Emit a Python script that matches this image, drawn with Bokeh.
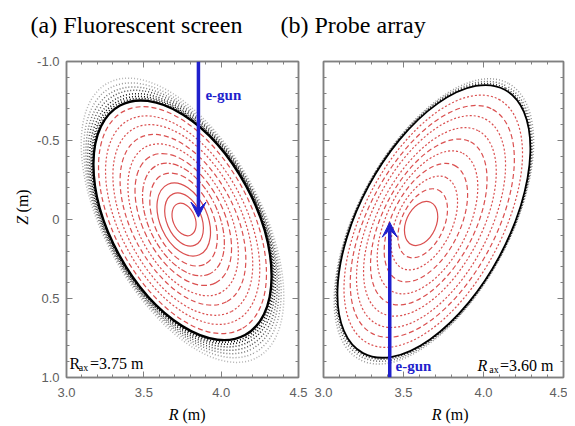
from bokeh.plotting import figure
from bokeh.models import Range1d, LinearAxis, FixedTicker, CustomJSTickFormatter, Arrow, VeeHead
from bokeh.layouts import column, row
from bokeh.embed import file_html
from bokeh.resources import INLINE
from bokeh.core.properties import value

# ---------------- data ----------------
x_major = [3.0, 3.5, 4.0, 4.5]
x_minor = [3.0, 3.1, 3.2, 3.3, 3.4, 3.5, 3.6, 3.7, 3.8, 3.9, 4.0, 4.1, 4.2, 4.3, 4.4, 4.5]
y_major = [-1.0, -0.5, 0.0, 0.5, 1.0]
y_minor = [-1.0, -0.9, -0.8, -0.7, -0.6, -0.5, -0.4, -0.3, -0.2, -0.1, 0.0,
           0.1, 0.2, 0.3, 0.4, 0.5, 0.6, 0.7, 0.8, 0.9, 1.0]

titles = ["(a) Fluorescent screen", "(b) Probe array"]

# (a) nested flux surfaces (ellipse fits): centre R, Z, full major / minor axis, tilt
a_R = [3.760, 3.760, 3.758, 3.757, 3.756, 3.755, 3.754, 3.753, 3.752, 3.751, 3.750]
a_Z = [0.000, 0.000, 0.000, 0.000, 0.000, 0.000, 0.002, 0.002, 0.003, 0.004, 0.004]
a_W = [0.22, 0.36, 0.50, 0.64, 0.78, 0.92, 1.06, 1.20, 1.34, 1.47, 1.60]
a_H = [0.14, 0.22, 0.30, 0.37, 0.44, 0.51, 0.58, 0.65, 0.72, 0.79, 0.86]
a_tilt = [-68, -67, -66, -65, -64, -63, -63, -62, -62, -61.5, -61.5]
a_dash = ["solid", "solid", "solid", "6 3", "6 2 2 2", "6 3", "2 2", "5 3", "2 2", "2 2", "5 3"]
# (a) last closed surface and stochastic layer
a_lcfs = dict(R=3.750, Z=0.005, W=1.69, H=0.915, tilt=-61.4)
a_sto_W = [1.72, 1.75, 1.79, 1.84, 1.89, 1.95, 2.02]
a_sto_H = [0.925, 0.93, 0.94, 0.95, 0.96, 0.97, 0.985]
a_sto_alpha = [1.0, 0.95, 0.85, 0.7, 0.55, 0.4, 0.3]

# (b)
b_R = [3.610, 3.620, 3.630, 3.640, 3.650, 3.658, 3.665, 3.672, 3.680, 3.686]
b_Z = [0.025, 0.024, 0.022, 0.020, 0.018, 0.016, 0.015, 0.013, 0.012, 0.011]
b_W = [0.29, 0.46, 0.63, 0.80, 0.97, 1.13, 1.29, 1.45, 1.59, 1.73]
b_H = [0.19, 0.27, 0.35, 0.43, 0.51, 0.58, 0.65, 0.73, 0.80, 0.87]
b_tilt = [66, 65, 64, 63.5, 63, 62.5, 62, 62, 61.7, 61.7]
b_dash = ["solid", "5 3", "2 2", "5 3", "2 2", "5 3", "2 2", "2 2", "5 3", "2 2"]
b_lcfs = dict(R=3.690, Z=0.012, W=1.87, H=0.94, tilt=61.7)
b_sto_W = [1.89, 1.92, 1.96]
b_sto_H = [0.948, 0.952, 0.956]
b_sto_alpha = [0.85, 0.6, 0.4]

# e-gun arrows: R position, start Z, tip Z
egun_R = [3.853, 3.414]
egun_Z0 = [-1.0, 1.0]
egun_Z1 = [-0.015, 0.017]

R_ax = ["3.75", "3.60"]

RED = "#d63c3c"
BLUE = "#1f1fcc"
GRAY = "#808080"
SERIF = value("Liberation Serif")


def style_axis(ax, ticks, minor, show, code, standoff):
    ax.ticker = FixedTicker(ticks=ticks, minor_ticks=minor)
    ax.major_tick_in = 6
    ax.major_tick_out = 0
    ax.minor_tick_in = 3
    ax.minor_tick_out = 0
    ax.major_tick_line_color = GRAY
    ax.minor_tick_line_color = GRAY
    ax.axis_line_color = GRAY
    ax.axis_line_width = 1.5
    ax.major_label_text_font = "Liberation Sans"
    ax.major_label_text_color = "#606060"
    if show:
        ax.formatter = CustomJSTickFormatter(code=code)
        ax.major_label_text_font_size = "13px"
        ax.major_label_standoff = standoff
    else:
        ax.formatter = CustomJSTickFormatter(code="return '';")
        ax.major_label_text_font_size = "1px"
        ax.major_label_standoff = 0


def panel(width, bl, br, show_y):
    p = figure(width=width, height=356, x_range=Range1d(3.0, 4.5), y_range=Range1d(1.0, -1.0),
               output_backend="svg", toolbar_location=None,
               x_axis_location=None, y_axis_location=None,
               min_border_left=bl, min_border_right=br, min_border_top=13, min_border_bottom=27)
    p.grid.visible = False
    p.outline_line_color = GRAY
    p.outline_line_width = 1.5
    xcode = "return tick.toFixed(1);"
    ycode = "return Math.abs(tick) < 1e-9 ? '0' : tick.toFixed(1);"
    for loc, show in (("below", True), ("above", False)):
        ax = LinearAxis()
        style_axis(ax, x_major, x_minor, show, xcode, 10)
        p.add_layout(ax, loc)
    for loc, show in (("left", show_y), ("right", False)):
        ax = LinearAxis()
        style_axis(ax, y_major, y_minor, show, ycode, 7)
        p.add_layout(ax, loc)
    return p


def surfaces(p, R, Z, W, H, tilt, dash, lcfs, sto_W, sto_H, sto_alpha, lw):
    for i in range(len(R)):
        p.ellipse(x=R[i], y=Z[i], width=W[i], height=H[i], angle=tilt[i], angle_units="deg",
                  fill_color=None, line_color=RED, line_width=1.2, line_dash=dash[i], line_alpha=0.9)
    for i in range(len(sto_W)):
        p.ellipse(x=lcfs["R"], y=lcfs["Z"], width=sto_W[i], height=sto_H[i], angle=lcfs["tilt"],
                  angle_units="deg", fill_color=None, line_color="black", line_width=1.5,
                  line_dash="1 2", line_dash_offset=i, line_alpha=sto_alpha[i])
    p.ellipse(x=lcfs["R"], y=lcfs["Z"], width=lcfs["W"], height=lcfs["H"], angle=lcfs["tilt"],
              angle_units="deg", fill_color=None, line_color="black", line_width=lw)


# ---------------- panel (a) ----------------
p1 = panel(276, 28, 12, True)
surfaces(p1, a_R, a_Z, a_W, a_H, a_tilt, a_dash, a_lcfs, a_sto_W, a_sto_H, a_sto_alpha, 2.4)
p1.add_layout(Arrow(end=VeeHead(size=15, fill_color=BLUE, line_color=BLUE),
                    x_start=egun_R[0], y_start=egun_Z0[0], x_end=egun_R[0], y_end=egun_Z1[0],
                    line_color=BLUE, line_width=3.5))
p1.text(x=[3.898], y=[-0.785], text=["e-gun"], text_font=SERIF, text_font_style="bold",
        text_font_size="15px", text_color=BLUE, text_baseline="middle", text_align="left")
p1.text(x=[3.019], y=[0.911], text=["R"], text_font=SERIF, text_font_size="16px",
        text_baseline="alphabetic", text_align="left", text_color="black")
p1.text(x=[3.080], y=[0.938], text=["ax"], text_font=SERIF, text_font_size="10px",
        text_baseline="alphabetic", text_align="left", text_color="black")
p1.text(x=[3.152], y=[0.911], text=["=" + R_ax[0] + " m"], text_font=SERIF, text_font_size="16px",
        text_baseline="alphabetic", text_align="left", text_color="black")

# ---------------- panel (b) ----------------
p2 = panel(257, 13, 4, False)
surfaces(p2, b_R, b_Z, b_W, b_H, b_tilt, b_dash, b_lcfs, b_sto_W, b_sto_H, b_sto_alpha, 1.8)
p2.add_layout(Arrow(end=VeeHead(size=15, fill_color=BLUE, line_color=BLUE),
                    x_start=egun_R[1], y_start=egun_Z0[1], x_end=egun_R[1], y_end=egun_Z1[1],
                    line_color=BLUE, line_width=3.5))
p2.text(x=[3.45], y=[0.925], text=["e-gun"], text_font=SERIF, text_font_style="bold",
        text_font_size="15px", text_color=BLUE, text_baseline="middle", text_align="left")
p2.text(x=[3.9625], y=[0.924], text=["R"], text_font=SERIF, text_font_size="16px",
        text_font_style="italic", text_baseline="alphabetic", text_align="left", text_color="black")
p2.text(x=[4.036], y=[0.951], text=["ax"], text_font=SERIF, text_font_size="10px",
        text_baseline="alphabetic", text_align="left", text_color="black")
p2.text(x=[4.103], y=[0.924], text=["=" + R_ax[1] + " m"], text_font=SERIF, text_font_size="16px",
        text_baseline="alphabetic", text_align="left", text_color="black")


# ---------------- titles and axis labels ----------------
def blank(w, h):
    f = figure(width=w, height=h, x_range=Range1d(0, w), y_range=Range1d(0, h),
               output_backend="svg", toolbar_location=None,
               x_axis_location=None, y_axis_location=None, min_border=0)
    f.grid.visible = False
    f.outline_line_color = None
    return f


tf = blank(567, 48)
tf.text(x=[30, 280], y=[24, 24], text=titles, text_font=SERIF, text_font_size="24px",
        text_baseline="middle", text_align="left", text_color="black")

yf = blank(34, 356)
yf.text(x=[22], y=[172], text=["Z"], text_font=SERIF, text_font_style="italic",
        text_font_size="16px", angle=1.5708, text_baseline="middle", text_align="left",
        text_color="black")
yf.text(x=[22], y=[186], text=["(m)"], text_font=SERIF, text_font_size="16px",
        angle=1.5708, text_baseline="middle", text_align="left", text_color="black")

xf = blank(567, 20)
for cx in (180, 443):
    xf.text(x=[cx - 2], y=[10], text=["R"], text_font=SERIF, text_font_style="italic",
            text_font_size="16px", text_baseline="middle", text_align="right", text_color="black")
    xf.text(x=[cx + 2], y=[10], text=["(m)"], text_font=SERIF, text_font_size="16px",
            text_baseline="middle", text_align="left", text_color="black")

layout = column(tf, row(yf, p1, p2), xf)
open("out.html", "w").write(file_html(layout, INLINE))
